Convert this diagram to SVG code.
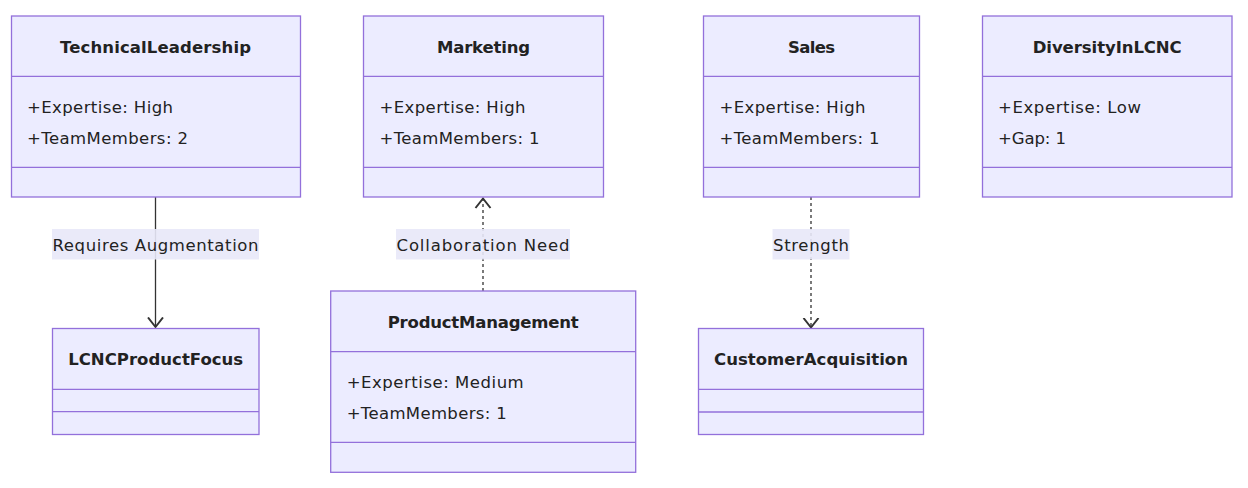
<svg xmlns="http://www.w3.org/2000/svg" width="1248" height="488" viewBox="0 0 1248 488">
<defs>
<style>
.box{fill:#ECECFF;stroke:#9370DB;stroke-width:1.3}
.div{stroke:#9370DB;stroke-width:1.3}
.t{font-family:"DejaVu Sans",Verdana,sans-serif;font-size:16.5px;fill:#222}
.title{font-weight:bold;text-anchor:middle}
.lbl{text-anchor:middle}
.lblbg{fill:#E8E8F8;opacity:0.9}
.edge{stroke:#333;stroke-width:1.3;fill:none}
.dash{stroke-dasharray:3,3}
</style>
<marker id="arr" markerWidth="20" markerHeight="20" viewBox="0 0 20 20" refX="10" refY="10" orient="auto" markerUnits="userSpaceOnUse">
<path d="M0.5,2.5 L10,10 L0.5,17.5" fill="none" stroke="#333" stroke-width="2"/>
</marker>
</defs>
<rect width="1248" height="488" fill="#fff"/>

<g id="connectors">
<line class="edge" x1="155.5" y1="197" x2="155.5" y2="327" marker-end="url(#arr)"/>
<line class="edge dash" x1="483" y1="291" x2="483" y2="198.5" marker-end="url(#arr)"/>
<line class="edge dash" x1="811" y1="197" x2="811" y2="327.5" marker-end="url(#arr)"/>
<rect class="lblbg" x="52" y="229" width="207" height="30.5"/>
<text class="t lbl" x="155.5" y="245" dominant-baseline="central" textLength="206" lengthAdjust="spacing">Requires Augmentation</text>
<rect class="lblbg" x="396" y="229" width="174" height="30.5"/>
<text class="t lbl" x="483" y="245" dominant-baseline="central" textLength="173" lengthAdjust="spacing">Collaboration Need</text>
<rect class="lblbg" x="772.5" y="229" width="77" height="30.5"/>
<text class="t lbl" x="811" y="245" dominant-baseline="central" textLength="76" lengthAdjust="spacing">Strength</text>
</g>

<g id="TechnicalLeadership">
<rect class="box" x="11.5" y="16" width="289" height="181"/>
<line class="div" x1="11.5" y1="76.3" x2="300.5" y2="76.3"/>
<line class="div" x1="11.5" y1="167.3" x2="300.5" y2="167.3"/>
<text class="t title" x="155.5" y="47" dominant-baseline="central" textLength="191" lengthAdjust="spacing">TechnicalLeadership</text>
<text class="t" x="27" y="107.3" dominant-baseline="central" textLength="146" lengthAdjust="spacing">+Expertise: High</text>
<text class="t" x="27" y="138.3" dominant-baseline="central" textLength="161" lengthAdjust="spacing">+TeamMembers: 2</text>
</g>

<g id="Marketing">
<rect class="box" x="363.5" y="16" width="240" height="181"/>
<line class="div" x1="363.5" y1="76.3" x2="603.5" y2="76.3"/>
<line class="div" x1="363.5" y1="167.3" x2="603.5" y2="167.3"/>
<text class="t title" x="483.5" y="47" dominant-baseline="central" textLength="93" lengthAdjust="spacing">Marketing</text>
<text class="t" x="379.5" y="107.3" dominant-baseline="central" textLength="146" lengthAdjust="spacing">+Expertise: High</text>
<text class="t" x="379.5" y="138.3" dominant-baseline="central" textLength="160" lengthAdjust="spacing">+TeamMembers: 1</text>
</g>

<g id="Sales">
<rect class="box" x="703.5" y="16" width="216" height="181"/>
<line class="div" x1="703.5" y1="76.3" x2="919.5" y2="76.3"/>
<line class="div" x1="703.5" y1="167.3" x2="919.5" y2="167.3"/>
<text class="t title" x="811.5" y="47" dominant-baseline="central" textLength="47" lengthAdjust="spacing">Sales</text>
<text class="t" x="719.5" y="107.3" dominant-baseline="central" textLength="146" lengthAdjust="spacing">+Expertise: High</text>
<text class="t" x="719.5" y="138.3" dominant-baseline="central" textLength="160" lengthAdjust="spacing">+TeamMembers: 1</text>
</g>

<g id="DiversityInLCNC">
<rect class="box" x="982.5" y="16" width="249.5" height="181"/>
<line class="div" x1="982.5" y1="76.3" x2="1232" y2="76.3"/>
<line class="div" x1="982.5" y1="167.3" x2="1232" y2="167.3"/>
<text class="t title" x="1107.2" y="47" dominant-baseline="central" textLength="149" lengthAdjust="spacing">DiversityInLCNC</text>
<text class="t" x="998" y="107.3" dominant-baseline="central" textLength="143" lengthAdjust="spacing">+Expertise: Low</text>
<text class="t" x="998" y="138.3" dominant-baseline="central" textLength="68" lengthAdjust="spacing">+Gap: 1</text>
</g>

<g id="LCNCProductFocus">
<rect class="box" x="52.5" y="328.5" width="206.5" height="106"/>
<line class="div" x1="52.5" y1="389.3" x2="259" y2="389.3"/>
<line class="div" x1="52.5" y1="411.7" x2="259" y2="411.7"/>
<text class="t title" x="155.7" y="359.5" dominant-baseline="central" textLength="175" lengthAdjust="spacing">LCNCProductFocus</text>
</g>

<g id="ProductManagement">
<rect class="box" x="330.7" y="291" width="305" height="181.3"/>
<line class="div" x1="330.7" y1="351.7" x2="635.7" y2="351.7"/>
<line class="div" x1="330.7" y1="442.3" x2="635.7" y2="442.3"/>
<text class="t title" x="483.2" y="322" dominant-baseline="central" textLength="191" lengthAdjust="spacing">ProductManagement</text>
<text class="t" x="346.7" y="382.5" dominant-baseline="central" textLength="177" lengthAdjust="spacing">+Expertise: Medium</text>
<text class="t" x="346.7" y="413.3" dominant-baseline="central" textLength="160" lengthAdjust="spacing">+TeamMembers: 1</text>
</g>

<g id="CustomerAcquisition">
<rect class="box" x="698.5" y="328.5" width="225" height="106"/>
<line class="div" x1="698.5" y1="389.3" x2="923.5" y2="389.3"/>
<line class="div" x1="698.5" y1="412" x2="923.5" y2="412"/>
<text class="t title" x="811" y="359.5" dominant-baseline="central" textLength="194" lengthAdjust="spacing">CustomerAcquisition</text>
</g>
</svg>
